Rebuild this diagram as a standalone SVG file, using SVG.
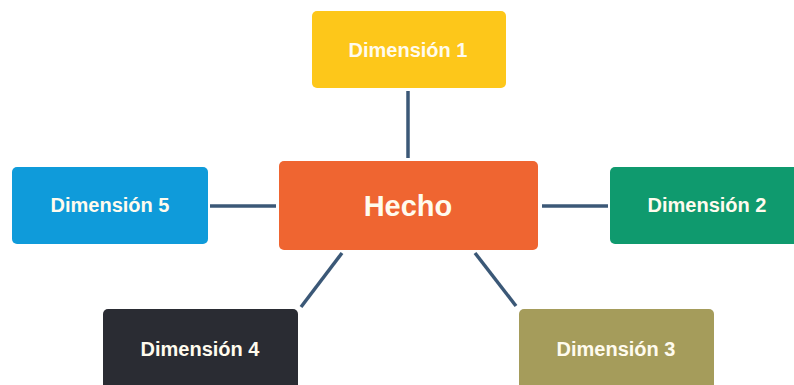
<svg xmlns="http://www.w3.org/2000/svg" width="794" height="385" viewBox="0 0 794 385">
<style>
.box{stroke:none}
.lbl{font-family:"Liberation Sans",Arial,sans-serif;font-weight:bold;font-size:20px;fill:#fffbee;text-anchor:middle}
.big{font-size:29px}
.con line{stroke:#3b5877;stroke-width:3.5;stroke-linecap:butt}
</style>
<rect width="794" height="385" fill="#ffffff"/>
<g class="con" id="connectors">
<line x1="408" y1="91" x2="408" y2="158"/>
<line x1="542" y1="206" x2="608" y2="206"/>
<line x1="210" y1="206" x2="276" y2="206"/>
<line x1="342" y1="253" x2="301" y2="307"/>
<line x1="475" y1="253" x2="516" y2="306"/>
</g>
<g id="hecho">
<rect class="box" x="279" y="161" width="259" height="89" rx="5" fill="#ef6531"/>
<text class="lbl big" x="408" y="216">Hecho</text>
</g>
<g id="dim1">
<rect class="box" x="312" y="11" width="194" height="77" rx="5" fill="#fdc71a"/>
<text class="lbl" x="408" y="57">Dimensión 1</text>
</g>
<g id="dim2">
<rect class="box" x="610" y="167" width="190" height="77" rx="5" fill="#0f9a6e"/>
<text class="lbl" x="707" y="212">Dimensión 2</text>
</g>
<g id="dim3">
<rect class="box" x="519" y="309" width="195" height="90" rx="5" fill="#a59c5b"/>
<text class="lbl" x="616" y="356">Dimensión 3</text>
</g>
<g id="dim4">
<rect class="box" x="103" y="309" width="195" height="90" rx="5" fill="#2a2c33"/>
<text class="lbl" x="200" y="356">Dimensión 4</text>
</g>
<g id="dim5">
<rect class="box" x="12" y="167" width="196" height="77" rx="5" fill="#0f9bda"/>
<text class="lbl" x="110" y="212">Dimensión 5</text>
</g>
</svg>
